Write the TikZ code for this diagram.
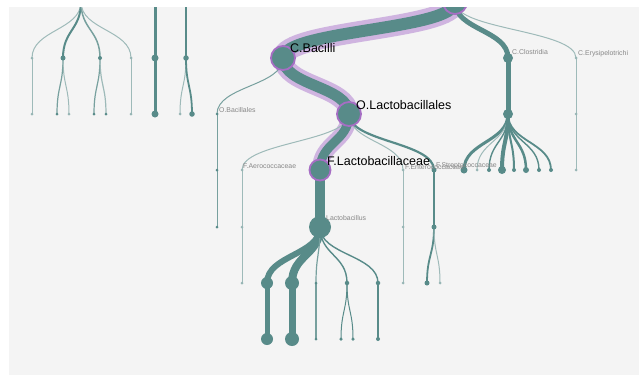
\documentclass[tikz,border=0pt]{standalone}
\usepackage{fontspec}
\setmainfont{Liberation Sans}
\usetikzlibrary{calc}
\definecolor{tl}{RGB}{88,139,137}
\definecolor{bgc}{RGB}{244,244,244}
\definecolor{halo}{RGB}{207,180,224}
\definecolor{pborder}{RGB}{166,110,196}
\definecolor{lbl}{RGB}{135,135,135}
\begin{document}
\begin{tikzpicture}[x=1pt,y=-1pt,
  vl/.style={to path={.. controls ($(\tikztostart)!.5!(\tikztostart|-\tikztotarget)$) and ($(\tikztotarget)!.5!(\tikztotarget|-\tikztostart)$) .. (\tikztotarget)}},
  e/.style={draw=tl, line width=#1},
  em/.style={draw=tl!80!bgc, line width=#1},
  el/.style={draw=tl!55!bgc, line width=#1},
  hl/.style={draw=halo, line width=#1},
  dot/.style={circle, fill=tl, inner sep=0pt, minimum size=#1},
  dotl/.style={circle, fill=tl!60!bgc, inner sep=0pt, minimum size=#1},
  pdot/.style={circle, fill=tl, draw=pborder, line width=1.8pt, inner sep=0pt, minimum size=#1},
  big/.style={anchor=west, inner sep=0pt, font=\fontsize{12.5}{14}\selectfont, text=black},
  small/.style={anchor=west, inner sep=0pt, font=\fontsize{6.9}{8}\selectfont, text=lbl}]
\useasboundingbox (0,0) rectangle (639,375);
\fill[white] (0,0) rectangle (639,375);
\fill[bgc] (9,7) rectangle (639,375);
\clip (9,7) rectangle (639,375);
% coordinates
\coordinate (L0) at (81,2);
\coordinate (La) at (32,58); \coordinate (Lb) at (63,58); \coordinate (Lc) at (100,58); \coordinate (Ld) at (131,58);
\coordinate (La1) at (32,114); \coordinate (Lb1) at (57,114); \coordinate (Lb2) at (69,114);
\coordinate (Lc1) at (94,114); \coordinate (Lc2) at (106,114); \coordinate (Ld1) at (131,114);
\coordinate (M0) at (155,2); \coordinate (Ma) at (155,58); \coordinate (Ma1) at (155,114);
\coordinate (N0) at (186,2); \coordinate (Na) at (186,58); \coordinate (Na1) at (180,114); \coordinate (Na2) at (192,114);
\coordinate (R) at (455,2);
\coordinate (Bac) at (283,58); \coordinate (Clo) at (508,58); \coordinate (Ery) at (576,58);
\coordinate (OBac) at (217,114); \coordinate (OLac) at (349,114); \coordinate (Clo2) at (508,114); \coordinate (Ery2) at (576,114);
\coordinate (OBac2) at (217,170); \coordinate (FAer) at (242,170); \coordinate (FLac) at (320,170);
\coordinate (FEnt) at (403,170); \coordinate (FStr) at (434,170); \coordinate (Ery3) at (576,170);
\coordinate (K1) at (464,170); \coordinate (K2) at (477,170); \coordinate (K3) at (489,170); \coordinate (K4) at (502,170);
\coordinate (K5) at (514,170); \coordinate (K6) at (526,170); \coordinate (K7) at (539,170); \coordinate (K8) at (551,170);
\coordinate (OBac3) at (217,227); \coordinate (FAer2) at (242,227); \coordinate (Lac) at (320,227);
\coordinate (FEnt2) at (403,227); \coordinate (FStr2) at (434,227);
\coordinate (FAer3) at (242,283); \coordinate (G1) at (267,283); \coordinate (G2) at (292,283); \coordinate (G3) at (316,283);
\coordinate (G4) at (347,283); \coordinate (G5) at (378,283); \coordinate (FEnt3) at (403,283);
\coordinate (FStr3) at (427,283); \coordinate (FStr4) at (440,283);
\coordinate (H1) at (267,339); \coordinate (H2) at (292,339); \coordinate (H3) at (316,339);
\coordinate (H4) at (341,339); \coordinate (H5) at (353,339); \coordinate (H6) at (378,339);
% left cluster
\draw[el=1] (L0) to[vl] (La); \draw[e=2] (L0) to[vl] (Lb); \draw[em=1.5] (L0) to[vl] (Lc); \draw[el=1] (L0) to[vl] (Ld);
\draw[el=1] (La) to[vl] (La1);
\draw[em=1.2] (Lb) to[vl] (Lb1); \draw[el=1] (Lb) to[vl] (Lb2);
\draw[em=1.2] (Lc) to[vl] (Lc1); \draw[el=1.2] (Lc) to[vl] (Lc2);
\draw[el=1] (Ld) to[vl] (Ld1);
\draw[e=3] (M0) to[vl] (Ma); \draw[e=3] (Ma) to[vl] (Ma1);
\draw[e=2] (N0) to[vl] (Na); \draw[el=1] (Na) to[vl] (Na1); \draw[e=1.8] (Na) to[vl] (Na2);
% highlighted path halo
\draw[hl=21] (R) to[vl] (Bac);
\draw[hl=19] (Bac) to[vl] (OLac);
\draw[hl=16] (OLac) to[vl] (FLac);
% other edges
\draw[e=5] (R) to[vl] (Clo);
\draw[el=1] (R) to[vl] (Ery);
\draw[em=1] (Bac) to[vl] (OBac);
\draw[el=1] (OLac) to[vl] (FAer);
\draw[el=1] (OLac) to[vl] (FEnt);
\draw[e=2.2] (OLac) to[vl] (FStr);
\draw[em=1] (OBac) to[vl] (OBac2); \draw[em=1] (OBac2) to[vl] (OBac3);
\draw[el=1] (FAer) to[vl] (FAer2); \draw[el=1] (FAer2) to[vl] (FAer3);
\draw[el=1] (FEnt) to[vl] (FEnt2); \draw[el=1] (FEnt2) to[vl] (FEnt3);
\draw[e=2] (FStr) to[vl] (FStr2); \draw[e=1.8] (FStr2) to[vl] (FStr3); \draw[el=1] (FStr2) to[vl] (FStr4);
\draw[el=1] (Ery) to[vl] (Ery2); \draw[el=1] (Ery2) to[vl] (Ery3);
\draw[e=5] (Clo) to[vl] (Clo2);
\draw[e=3] (Clo2) to[vl] (K1); \draw[el=1] (Clo2) to[vl] (K2); \draw[e=1.4] (Clo2) to[vl] (K3);
\draw[e=4] (Clo2) to[vl] (K4); \draw[e=2] (Clo2) to[vl] (K5); \draw[e=2.5] (Clo2) to[vl] (K6);
\draw[e=1.4] (Clo2) to[vl] (K7); \draw[e=1.8] (Clo2) to[vl] (K8);
\draw[e=10] (FLac) to[vl] (Lac);
\draw[e=6] (Lac) to[vl] (G1); \draw[e=8] (Lac) to[vl] (G2); \draw[em=1.2] (Lac) to[vl] (G3);
\draw[e=1.4] (Lac) to[vl] (G4); \draw[e=1.4] (Lac) to[vl] (G5);
\draw[e=5] (G1) to[vl] (H1); \draw[e=7] (G2) to[vl] (H2); \draw[em=1.2] (G3) to[vl] (H3);
\draw[e=1] (G4) to[vl] (H4); \draw[e=1] (G4) to[vl] (H5); \draw[e=1.4] (G5) to[vl] (H6);
% highlighted path core
\draw[e=12] (R) to[vl] (Bac);
\draw[e=11] (Bac) to[vl] (OLac);
\draw[e=9] (OLac) to[vl] (FLac);
% dots
\node[dotl=3] (nLa) at (La) {}; \node[dot=5] (nLb) at (Lb) {}; \node[dot=4] (nLc) at (Lc) {}; \node[dotl=3] (nLd) at (Ld) {};
\node[dotl=3] (nLa1) at (La1) {}; \node[dot=3] (nLb1) at (Lb1) {}; \node[dotl=3] (nLb2) at (Lb2) {};
\node[dot=3] (nLc1) at (Lc1) {}; \node[dot=3] (nLc2) at (Lc2) {}; \node[dotl=3] (nLd1) at (Ld1) {};
\node[dot=7] (nMa) at (Ma) {}; \node[dot=7] (nMa1) at (Ma1) {};
\node[dot=5.5] (nNa) at (Na) {}; \node[dotl=3] (nNa1) at (Na1) {}; \node[dot=5.5] (nNa2) at (Na2) {};
\node[pdot=24] (nR) at (R) {};
\node[pdot=24] (nBac) at (Bac) {};
\node[pdot=24] (nOLac) at (OLac) {};
\node[pdot=21] (nFLac) at (FLac) {};
\node[dot=22] (nLac) at (Lac) {};
\node[dot=10] (nClo) at (Clo) {}; \node[dot=10] (nClo2) at (Clo2) {};
\node[dotl=3] (nEry) at (Ery) {}; \node[dotl=3] (nEry2) at (Ery2) {}; \node[dotl=3] (nEry3) at (Ery3) {};
\node[dot=3] (nOBac) at (OBac) {}; \node[dot=3] (nOBac2) at (OBac2) {}; \node[dot=3] (nOBac3) at (OBac3) {};
\node[dotl=3] (nFAer) at (FAer) {}; \node[dotl=3] (nFAer2) at (FAer2) {}; \node[dotl=3] (nFAer3) at (FAer3) {};
\node[dotl=3] (nFEnt) at (FEnt) {}; \node[dotl=3] (nFEnt2) at (FEnt2) {}; \node[dotl=3] (nFEnt3) at (FEnt3) {};
\node[dot=5] (nFStr) at (FStr) {}; \node[dot=5] (nFStr2) at (FStr2) {}; \node[dot=5] (nFStr3) at (FStr3) {}; \node[dotl=3] (nFStr4) at (FStr4) {};
\node[dot=7] (nK1) at (K1) {}; \node[dotl=3] (nK2) at (K2) {}; \node[dot=4] (nK3) at (K3) {}; \node[dot=8] (nK4) at (K4) {};
\node[dot=4] (nK5) at (K5) {}; \node[dot=6] (nK6) at (K6) {}; \node[dot=4] (nK7) at (K7) {}; \node[dot=4] (nK8) at (K8) {};
\node[dot=12] (nG1) at (G1) {}; \node[dot=14] (nG2) at (G2) {}; \node[dot=3] (nG3) at (G3) {};
\node[dot=4.5] (nG4) at (G4) {}; \node[dot=4.5] (nG5) at (G5) {};
\node[dot=12] (nH1) at (H1) {}; \node[dot=14] (nH2) at (H2) {}; \node[dot=3] (nH3) at (H3) {};
\node[dot=3.5] (nH4) at (H4) {}; \node[dot=3.5] (nH5) at (H5) {}; \node[dot=4] (nH6) at (H6) {};
% labels
\node[big] (tBac) at (290,48) {C.Bacilli};
\node[big] (tOLac) at (356,105) {O.Lactobacillales};
\node[big] (tFLac) at (327,161) {F.Lactobacillaceae};
\node[small] (tOBac) at (219,110) {O.Bacillales};
\node[small] (tClo) at (512,52) {C.Clostridia};
\node[small] (tEry) at (578,54) {C.Erysipelotrichi};
\node[small] (tFAer) at (243,166.5) {F.Aerococcaceae};
\node[small] (tLac) at (326,218.5) {Lactobacillus};
\node[small] (tFEnt) at (405,167) {F.Enterococcaceae};
\node[small] (tFStr) at (436,166) {F.Streptococcaceae};
\end{tikzpicture}
\end{document}
